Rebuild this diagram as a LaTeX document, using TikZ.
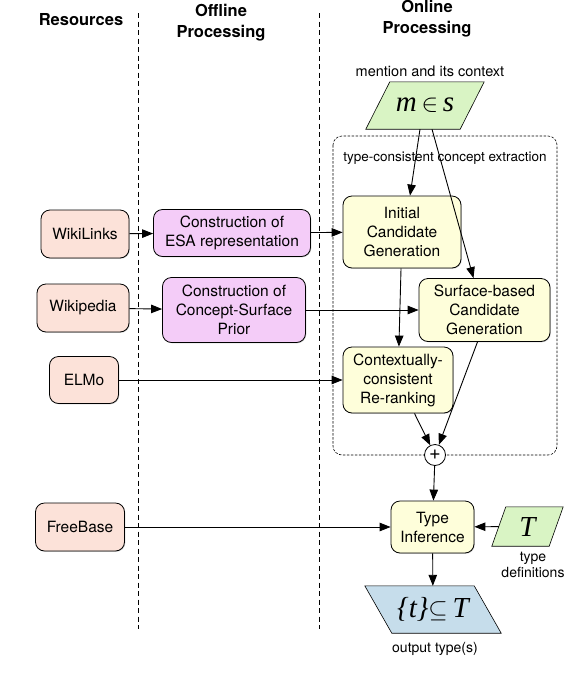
\documentclass[tikz,border=0pt]{standalone}
\usepackage{fontspec}
\setmainfont{TeX Gyre Heros}
\newfontfamily\symserif{Liberation Serif}
\usetikzlibrary{arrows.meta,shadows,backgrounds}

\definecolor{respink}{RGB}{252,226,217}
\definecolor{offviolet}{RGB}{244,204,248}
\definecolor{onyellow}{RGB}{254,254,218}
\definecolor{ingreen}{RGB}{217,244,196}
\definecolor{outblue}{RGB}{198,221,235}

\tikzset{
  box/.style={draw, line width=0.8pt, rounded corners=9pt, align=center, inner sep=2pt,
    font=\fontsize{15.5}{19}\selectfont,
    drop shadow={shadow xshift=0.8pt, shadow yshift=-0.8pt, opacity=0.35}},
  resbox/.style={box, fill=respink},
  offbox/.style={box, fill=offviolet},
  onbox/.style={box, fill=onyellow},
  para/.style={inner sep=0pt, font=\fontsize{29}{29}\selectfont\symserif\itshape},
  paraline/.style={draw, line width=0.6pt},
  head/.style={align=center, font=\fontsize{16.5}{21}\selectfont\bfseries},
  lbl/.style={align=center, font=\fontsize{14}{16}\selectfont},
  arr/.style={-{Triangle[length=11pt,width=8.5pt]}, line width=0.9pt},
  sep/.style={dashed, line width=1pt, dash pattern=on 5pt off 3.5pt}
}

\begin{document}
\begin{tikzpicture}[x=1pt,y=-1pt]
            \useasboundingbox (0,0) rectangle (580,686);

            % column titles and separators
            \node[head] at (81,20) (RES) {Resources};
            \node[head] at (221,23) (OFF) {Offline\\Processing};
            \node[head] at (427,18.5) (ONL) {Online\\Processing};
            \draw[sep] (138,13) -- (138,629);
            \draw[sep] (319,13) -- (319,629);

            % type-consistent concept extraction
            \draw[dashed, dash pattern=on 2.5pt off 1.5pt, line width=0.6pt, rounded corners=9pt]
                (333,136) rectangle (557,455);
            \node[lbl, font=\fontsize{13.5}{16}\selectfont] at (445,158) (EXT) {type-consistent concept extraction};

            \node[resbox, minimum width=88, minimum height=48] at (85,234) (WL) {WikiLinks};
            \node[resbox, minimum width=92, minimum height=48] at (83,308) (WP) {Wikipedia};
            \node[resbox, minimum width=69, minimum height=47] at (84,380) (ELMO) {ELMo};
            \node[resbox, minimum width=89, minimum height=48] at (80,527) (FB) {FreeBase};

            \node[offbox, minimum width=157, minimum height=47] at (232,233) (ESA) {Construction of\\ESA representation};
            \node[offbox, minimum width=143, minimum height=65] at (234,310) (CSP) {Construction of\\Concept-Surface\\Prior};

            \node[onbox, minimum width=118, minimum height=72] at (402,232) (ICG) {Initial\\Candidate\\Generation};
            \node[onbox, minimum width=131, minimum height=63] at (484.5,310) (SCG) {Surface-based\\Candidate\\Generation};
            \node[onbox, minimum width=110, minimum height=66] at (398,380) (CCR) {Contextually-\\consistent\\Re-ranking};
            \node[onbox, minimum width=83, minimum height=52] at (432.5,527) (TI) {Type\\Inference};

            \node[circle, draw, fill=white, line width=0.8pt, minimum size=21, inner sep=0pt,
                font=\fontsize{20}{20}\selectfont] at (435,455) (PLUS) {+};

            % parallelograms: node holds the text, outline drawn behind it
            \node[para, minimum width=94, minimum height=47] at (425,105.5) (MS) {m\,$\in$\,s};
            \node[para, minimum width=57, minimum height=39] at (527.5,526.5) (TDEF) {T};
            \node[para, minimum width=109, minimum height=47] at (433,609.5) (OUT) {\{t\}$\subseteq$\,T};
            \begin{scope}[on background layer]
                \draw[paraline, fill=ingreen] ([xshift=-12pt]MS.south west) -- ([xshift=-12pt]MS.south east)
                    -- ([xshift=12pt]MS.north east) -- ([xshift=12pt]MS.north west) -- cycle;
                \draw[paraline, fill=ingreen] ([xshift=-7pt]TDEF.south west) -- ([xshift=-7pt]TDEF.south east)
                    -- ([xshift=7pt]TDEF.north east) -- ([xshift=7pt]TDEF.north west) -- cycle;
                \draw[paraline, fill=outblue] ([xshift=13.5pt]OUT.south west) -- ([xshift=13.5pt]OUT.south east)
                    -- ([xshift=-13.5pt]OUT.north east) -- ([xshift=-13.5pt]OUT.north west) -- cycle;
            \end{scope}

            \node[lbl, font=\fontsize{14.5}{16}\selectfont] at (430,71) (MSL) {mention and its context};
            \node[lbl] at (533,565) (TDL) {type\\definitions};
            \node[lbl] at (435,649) (OUTL) {output type(s)};

            % connectors
            \draw[arr] (WL) -- (ESA);
            \draw[arr] (WP) -- (CSP);
            \draw[arr] (ESA) -- (ICG);
            \draw[arr] (CSP) -- (SCG);
            \draw[arr] (ELMO) -- (CCR);
            \draw[arr] (FB) -- (TI);
            \draw[arr] ([xshift=-5pt]MS.south) -- ([xshift=8pt]ICG.north);
            \draw[arr] ([xshift=7pt]MS.south) -- ([xshift=-11pt]SCG.north);
            \draw[arr] (ICG) -- (CCR);
            \draw[arr] (CCR) -- (PLUS);
            \draw[arr] ([xshift=-7pt]SCG.south) -- (PLUS);
            \draw[arr] (PLUS) -- (TI);
            \draw[arr] (TDEF) -- (TI);
            \draw[arr] (TI) -- (OUT);
        \end{tikzpicture}
\end{document}
